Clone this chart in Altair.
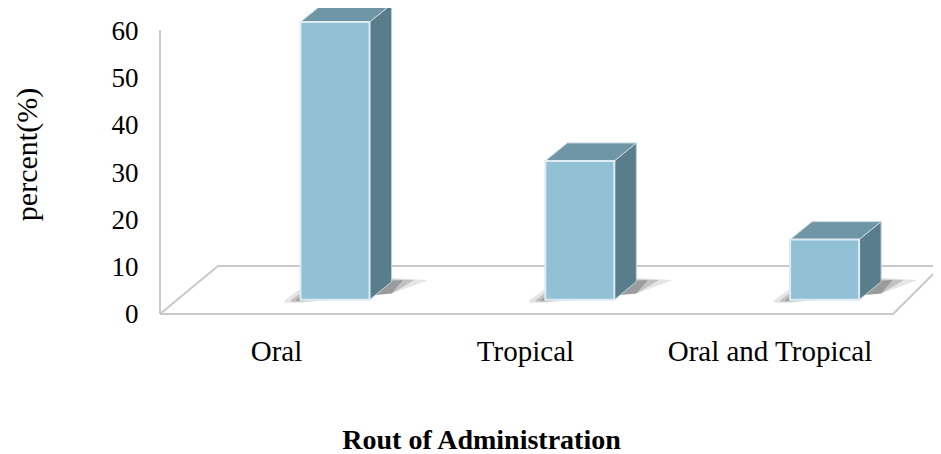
import altair as alt
import pandas as pd

categories = ["Oral", "Tropical", "Oral and Tropical"]
values = [60, 30, 13]
y_ticks = [0, 10, 20, 30, 40, 50, 60]
label_positions = [-0.241, 0.776, 1.775]

FONT = "Liberation Serif"
HALF = 0.141      # half bar width in category units
DX, DY = 0.09, 3.8  # 3D depth in x and y units
BASE = 3.0        # bar foot above the front floor edge
SCALE = 0.978     # front plane value scale relative to the axis
FLOOR_X0, FLOOR_X1 = -0.715, 2.28
FLOOR_DX, FLOOR_DY = 0.237, 10.14

fronts, sides, tops, shadows = [], [], [], []
for i, (c, v) in enumerate(zip(categories, values)):
    xl, xr = i - HALF, i + HALF
    t = BASE + v * SCALE
    fronts.append(dict(cat=c, x=xl, x2=xr, y=BASE, y2=t))
    sides += [dict(cat=c, x=xr, lo=BASE, hi=t), dict(cat=c, x=xr + DX, lo=BASE + DY, hi=t + DY)]
    tops += [
        dict(cat=c, x=xl, lo=t, hi=t),
        dict(cat=c, x=xl + DX, lo=t, hi=t + DY),
        dict(cat=c, x=xr, lo=t, hi=t + DY),
        dict(cat=c, x=xr + DX, lo=t + DY, hi=t + DY),
    ]
    for grow, key in ((1.3, "outer"), (0.8, "middle"), (0.4, "inner")):
        e = 0.05 * grow
        shadows += [
            dict(cat=c, k=key, x=xl - e, lo=BASE - 0.5 * grow, hi=BASE - 0.1),
            dict(cat=c, k=key, x=xl, lo=BASE - 0.5 * grow, hi=BASE + 1.8 * grow),
            dict(cat=c, k=key, x=xr + DX, lo=BASE - 0.4 + DY * 0.45, hi=BASE + DY + 0.6 * grow),
            dict(cat=c, k=key, x=xr + DX + 2.2 * e, lo=BASE + DY + 0.2, hi=BASE + DY + 0.4),
        ]

floor = pd.DataFrame([
    dict(s="a", o=0, x=FLOOR_X0, y=0), dict(s="a", o=1, x=FLOOR_X1, y=0),
    dict(s="a", o=2, x=FLOOR_X1 + FLOOR_DX - 0.04, y=FLOOR_DY),
    dict(s="b", o=0, x=FLOOR_X0, y=0), dict(s="b", o=1, x=FLOOR_X0 + FLOOR_DX, y=FLOOR_DY),
    dict(s="b", o=2, x=FLOOR_X1 + FLOOR_DX, y=FLOOR_DY),
    dict(s="c", o=0, x=FLOOR_X0, y=0), dict(s="c", o=1, x=FLOOR_X0, y=60),
])

x_scale = alt.Scale(domain=[-1.336, 2.443], nice=False, zero=False)
y_scale = alt.Scale(domain=[-29.58, 64.65], nice=False, zero=False)

label_expr = "datum.value < 0 ? 'Oral' : datum.value < 1.5 ? 'Tropical' : 'Oral and Tropical'"

x_axis = alt.Axis(
    values=label_positions, labelExpr=label_expr, orient="bottom", offset=-94,
    domain=False, ticks=False, grid=False, labelPadding=0, labelFontSize=29, labelFont=FONT,
    labelBaseline="alphabetic", labelColor="black", labelOverlap=False, labelFlush=False,
    labelLimit=400,
    title="Rout of Administration", titleFont=FONT, titleFontSize=28, titleFontWeight="bold",
    titleColor="black", titleX=473, titleY=88, titleBaseline="alphabetic", titleAlign="center",
)
y_axis = alt.Axis(
    values=y_ticks, orient="left", offset=-130, domain=False, ticks=False, grid=False,
    labelPadding=0, labelFontSize=27, labelFont=FONT, labelColor="black", format="d", labelOffset=1,
    title="percent(%)", titleFont=FONT, titleFontSize=30, titleFontWeight="normal",
    titleColor="black", titleX=-111, titleY=146, titleAngle=270, titleBaseline="middle",
    titleAlign="center",
)

floor_layer = alt.Chart(floor).mark_line(color="#c9c9c9", strokeWidth=2, clip=False).encode(
    x=alt.X("x:Q", scale=x_scale, axis=x_axis),
    y=alt.Y("y:Q", scale=y_scale, axis=y_axis),
    detail="s:N", order="o:Q",
)

sh = pd.DataFrame(shadows)
shadow_layers = [
    alt.Chart(sh[sh.k == key]).mark_area(color="#444444", opacity=op).encode(
        x=alt.X("x:Q", scale=x_scale), y=alt.Y("lo:Q", scale=y_scale), y2="hi:Q", detail="cat:N")
    for key, op in (("outer", 0.14), ("middle", 0.22), ("inner", 0.3))
]

side_layer = alt.Chart(pd.DataFrame(sides)).mark_area(
    color="#5a7d8b", stroke="#b9d3dc", strokeWidth=1, interpolate="linear"
).encode(x=alt.X("x:Q", scale=x_scale), y=alt.Y("lo:Q", scale=y_scale), y2="hi:Q", detail="cat:N")

top_layer = alt.Chart(pd.DataFrame(tops)).mark_area(
    color="#6e96a4", stroke="#c3dbe3", strokeWidth=1, interpolate="linear"
).encode(x=alt.X("x:Q", scale=x_scale), y=alt.Y("lo:Q", scale=y_scale), y2="hi:Q", detail="cat:N")

front_layer = alt.Chart(pd.DataFrame(fronts)).mark_rect(
    color="#92c1d6", stroke="#dcecf2", strokeWidth=2
).encode(
    x=alt.X("x:Q", scale=x_scale), x2="x2:Q",
    y=alt.Y("y:Q", scale=y_scale), y2="y2:Q",
)

chart = alt.layer(floor_layer, *shadow_layers, side_layer, top_layer, front_layer).properties(
    width=925, height=446, padding=0, autosize=alt.AutoSizeParams(type="none"), background="white",
).configure_view(stroke=None)

chart.save("out.html", embed_options={"renderer": "svg", "actions": False})
